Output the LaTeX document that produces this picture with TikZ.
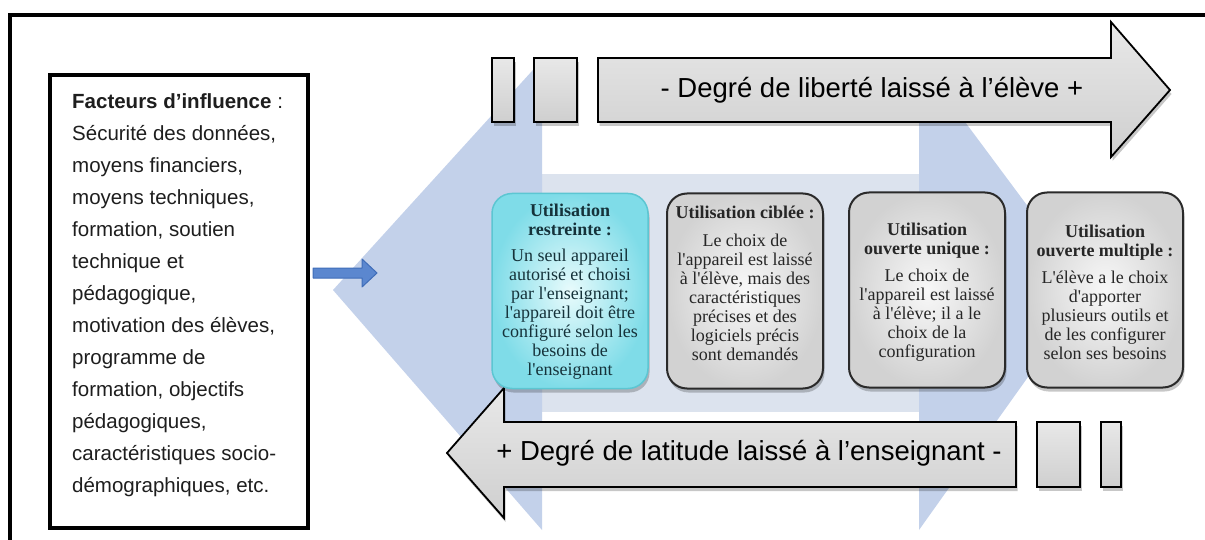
\documentclass[tikz,border=0pt]{standalone}
\usepackage{fontspec}
\setmainfont{Liberation Sans}
\newfontfamily\boxfont{Liberation Serif}
\usetikzlibrary{shadows,calc}
\definecolor{headblue}{HTML}{C3D1EA}
\definecolor{shaftblue}{HTML}{DCE3EE}
\definecolor{arrowblue}{HTML}{5B87CF}
\definecolor{arrowblueD}{HTML}{3F6DB8}
\definecolor{cyanin}{HTML}{E8FBFC}
\definecolor{cyanout}{HTML}{7FDCE8}
\definecolor{cyanline}{HTML}{5CC6D2}
\definecolor{grayin}{HTML}{F8F8F8}
\definecolor{grayout}{HTML}{D2D2D2}
\definecolor{boxline}{HTML}{2A2A2A}
\definecolor{arrtop}{HTML}{E8E8E8}
\definecolor{arrbot}{HTML}{CFCFCF}
\definecolor{txt}{HTML}{1E1E1E}
\definecolor{boxtxt}{HTML}{262626}
\definecolor{cyantxt}{HTML}{15323A}
\begin{document}
\begin{tikzpicture}[x=1pt,y=-1pt,
  frameline/.style={line width=4pt},
  factbox/.style={draw=black, line width=4pt, fill=white, minimum width=258pt, minimum height=453pt, inner sep=0pt},
  factext/.style={anchor=north west, align=left, inner sep=0pt, font=\fontsize{20.5}{32}\selectfont, text=txt},
  softshadow/.style={drop shadow={shadow xshift=1.5pt, shadow yshift=-4pt, opacity=0.22, fill=black}},
  grayarrow/.style={draw=black, line width=1.8pt, top color=arrtop, bottom color=arrbot, softshadow},
  arrowtext/.style={font=\fontsize{27.5}{30}\selectfont, text=black, inner sep=0pt},
  cyanbox/.style={draw=cyanline, line width=1.5pt, rounded corners=20pt, minimum width=156pt, minimum height=195pt, inner color=cyanin, outer color=cyanout, softshadow},
  graybox/.style={draw=boxline, line width=2pt, rounded corners=20pt, minimum width=156pt, minimum height=195pt, inner color=grayin, outer color=grayout, softshadow},
  boxtext/.style={align=center, font=\boxfont\fontsize{18}{19}\selectfont, text=boxtxt, inner sep=0pt},
  bluearrow/.style={fill=arrowblue, draw=arrowblueD, line width=1pt, line join=round}
]
\useasboundingbox (0,0) rectangle (1205,540);
% background double arrow
\fill[shaftblue] (542,174) rectangle (919,412);
\fill[headblue] (333,290) -- (542,60) -- (542,530) -- cycle;
\fill[headblue] (919,60) -- (1090,290) -- (919,530) -- cycle;
% outer frame
\draw[frameline] (1210,15) -- (10,15) -- (10,545);
% factor box
\node[factbox] (lbox) at (179,301.5) {};
\node[factext] (factors) at (72,93) {\textbf{Facteurs d’influence} :\\
Sécurité des données,\\
moyens financiers,\\
moyens techniques,\\
formation, soutien\\
technique et\\
pédagogique,\\
motivation des élèves,\\
programme de\\
formation, objectifs\\
pédagogiques,\\
caractéristiques socio-\\
démographiques, etc.};
% blue connector arrow
\coordinate (tipA) at (377,273);
\draw[bluearrow] ($(lbox.east|-tipA)+(3,-5)$) -- ($(tipA)+(-15,-5)$) -- ($(tipA)+(-15,-14)$) -- (tipA)
  -- ($(tipA)+(-15,14)$) -- ($(tipA)+(-15,5)$) -- ($(lbox.east|-tipA)+(3,5)$) -- cycle;
% top arrow
\draw[grayarrow] (492,58) rectangle (514,122);
\draw[grayarrow] (534,58) rectangle (577,122);
\draw[grayarrow, line join=miter] (598,58) -- (1111,58) -- (1111,22) -- (1170,90) -- (1111,157) -- (1111,122) -- (598,122) -- cycle;
\node[arrowtext] (liberte) at (872,90) {- Degré de liberté laissé à l’élève +};
% bottom arrow
\draw[grayarrow] (1037,422) rectangle (1080,487);
\draw[grayarrow] (1101,422) rectangle (1121,487);
\draw[grayarrow, line join=miter] (1016,422) -- (504,422) -- (504,388) -- (447,453) -- (504,518) -- (504,487) -- (1016,487) -- cycle;
\node[arrowtext] (latitude) at (749,453) {+ Degré de latitude laissé à l’enseignant -};
% boxes
\node[cyanbox] (b1) at (570,291) {};
\node[graybox] (b2) at (745,291) {};
\node[graybox] (b3) at (927,290) {};
\node[graybox] (b4) at (1105,290) {};
\node[boxtext, text=cyantxt] (t1) at (570,292) {\textbf{Utilisation}\\\textbf{restreinte :}\\[7pt]Un seul appareil\\autorisé et choisi\\par l'enseignant;\\l'appareil doit être\\configuré selon les\\besoins de\\l'enseignant};
\node[boxtext] (t2) at (745,283) {\textbf{Utilisation ciblée :}\\[9pt]Le choix de\\l'appareil est laissé\\à l'élève, mais des\\caractéristiques\\précises et des\\logiciels précis\\sont demandés};
\node[boxtext] (t3) at (927,292) {\textbf{Utilisation}\\\textbf{ouverte unique :}\\[8pt]Le choix de\\l'appareil est laissé\\à l'élève; il a le\\choix de la\\configuration};
\node[boxtext] (t4) at (1105,292) {\textbf{Utilisation}\\\textbf{ouverte multiple :}\\[8pt]L'élève a le choix\\d'apporter\\plusieurs outils et\\de les configurer\\selon ses besoins};
\end{tikzpicture}
\end{document}
